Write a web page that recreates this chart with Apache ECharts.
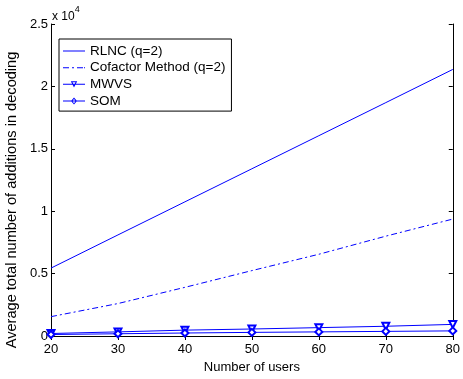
<!DOCTYPE html>
<html>
<head>
<meta charset="utf-8">
<script src="https://cdn.jsdelivr.net/npm/echarts@6/dist/echarts.min.js"></script>
<style>
  html, body { margin: 0; padding: 0; background: #fff; }
  #chart { width: 463px; height: 379px; }
</style>
</head>
<body>
<div id="chart"></div>
<script>
// 横轴：用户数
const users = [20, 30, 40, 50, 60, 70, 80];
// 各方法的译码加法次数
const rlnc = [5440, 8100, 10750, 13400, 16050, 18700, 21360];
const cofactor = [1550, 2600, 3900, 5240, 6550, 8000, 9370];
const mwvs = [200, 330, 470, 560, 670, 780, 930];
const som = [120, 180, 240, 290, 330, 370, 410];
const seriesNames = ['RLNC (q=2)', 'Cofactor Method (q=2)', 'MWVS', 'SOM'];

const FONT = '"Liberation Sans", Arial, sans-serif';
const BLUE = '#0000ff';

const pairs = (ys) => users.map((x, i) => [x, ys[i]]);

// 图例图标（22x12 的框内）：线段 + 空心标记
const LINE = 'M0,5.5 L22,5.5 L22,6.5 L0,6.5 Z';
const DASHDOT = 'M0,5.5 L6,5.5 L6,6.5 L0,6.5 Z M9,5.5 L11,5.5 L11,6.5 L9,6.5 Z '
  + 'M14,5.5 L20,5.5 L20,6.5 L14,6.5 Z M21,5.5 L22,5.5 L22,6.5 L21,6.5 Z';
const TRI = LINE + ' M7.8,3 L14.2,3 L11,9.2 Z M9.5,4 L11,7 L12.5,4 Z';
const DIAM = LINE + ' M11,2.5 L14,6 L11,9.5 L8,6 Z M11,3.9 L9.2,6 L11,8.1 L12.8,6 Z';
const icons = [LINE, DASHDOT, TRI, DIAM];

const chart = echarts.init(document.getElementById('chart'));

const frameAxis = {
  axisLine: { show: true, lineStyle: { color: '#000', width: 1 } },
  axisTick: { show: true, inside: true, length: 4, lineStyle: { color: '#000' } },
  axisLabel: { show: false },
  splitLine: { show: false },
};

const option = {
  animation: false,
  backgroundColor: '#fff',
  grid: { left: 51, right: 10, top: 24, bottom: 32 },
  legend: {
    orient: 'vertical',
    left: 59,
    top: 39,
    data: seriesNames.map((n, i) => ({
      name: n,
      icon: 'path://' + icons[i],
      itemStyle: { color: BLUE, borderWidth: 0 },
    })),
    itemWidth: 22,
    itemHeight: 12,
    itemGap: 2.7,
    padding: [5, 6, 3, 4],
    borderColor: '#000',
    borderWidth: 1,
    backgroundColor: '#fff',
    textStyle: { fontFamily: FONT, fontSize: 13.5, lineHeight: 14, color: '#000' },
  },
  xAxis: [
    {
      type: 'value',
      min: 20,
      max: 80,
      interval: 10,
      position: 'bottom',
      name: 'Number of users',
      nameLocation: 'middle',
      nameGap: 25,
      nameTextStyle: { fontFamily: FONT, fontSize: 13, color: '#000' },
      axisLine: { show: true, lineStyle: { color: '#000', width: 1 } },
      axisTick: { show: true, inside: true, length: 4, lineStyle: { color: '#000' } },
      axisLabel: { fontFamily: FONT, fontSize: 13, color: '#000', margin: 7 },
      splitLine: { show: false },
    },
    Object.assign({ type: 'value', min: 20, max: 80, interval: 10, position: 'top' }, frameAxis),
  ],
  yAxis: [
    {
      type: 'value',
      min: 0,
      max: 25000,
      interval: 5000,
      position: 'left',
      axisLine: { show: true, lineStyle: { color: '#000', width: 1 } },
      axisTick: { show: true, inside: true, length: 4, lineStyle: { color: '#000' } },
      axisLabel: {
        fontFamily: FONT, fontSize: 13, color: '#000', margin: 3,
        formatter: (v) => String(v / 10000),
      },
      splitLine: { show: false },
    },
    Object.assign({ type: 'value', min: 0, max: 25000, interval: 5000, position: 'right' }, frameAxis),
  ],
  graphic: [
    {
      type: 'text',
      left: 52,
      top: 5,
      style: {
        text: '{b|x 10}{s|4}',
        rich: {
          b: { fontFamily: FONT, fontSize: 12, fill: '#000', padding: [6, 0, 0, 0] },
          s: { fontFamily: FONT, fontSize: 9, fill: '#000', verticalAlign: 'top' },
        },
      },
    },
    {
      type: 'text',
      x: 12,
      y: 200,
      rotation: Math.PI / 2,
      style: {
        text: 'Average total number of additions in decoding',
        fontFamily: FONT,
        fontSize: 14.6,
        fill: '#000',
        align: 'center',
        verticalAlign: 'middle',
      },
    },
  ],
  series: [
    {
      name: seriesNames[0],
      type: 'line',
      data: pairs(rlnc),
      symbol: 'none',
      lineStyle: { color: BLUE, width: 1 },
      itemStyle: { color: BLUE },
    },
    {
      name: seriesNames[1],
      type: 'line',
      data: pairs(cofactor),
      symbol: 'none',
      lineStyle: { color: BLUE, width: 1, type: [6, 3, 2, 3] },
      itemStyle: { color: BLUE },
    },
    {
      name: seriesNames[2],
      type: 'line',
      data: pairs(mwvs),
      symbol: 'emptyTriangle',
      symbolRotate: 180,
      symbolSize: 7,
      lineStyle: { color: BLUE, width: 1 },
      itemStyle: { color: BLUE, borderColor: BLUE, borderWidth: 1 },
    },
    {
      name: seriesNames[3],
      type: 'line',
      data: pairs(som),
      symbol: 'emptyDiamond',
      symbolSize: 7,
      lineStyle: { color: BLUE, width: 1 },
      itemStyle: { color: BLUE, borderColor: BLUE, borderWidth: 1 },
    },
  ],
};

chart.setOption(option);
</script>
</body>
</html>
